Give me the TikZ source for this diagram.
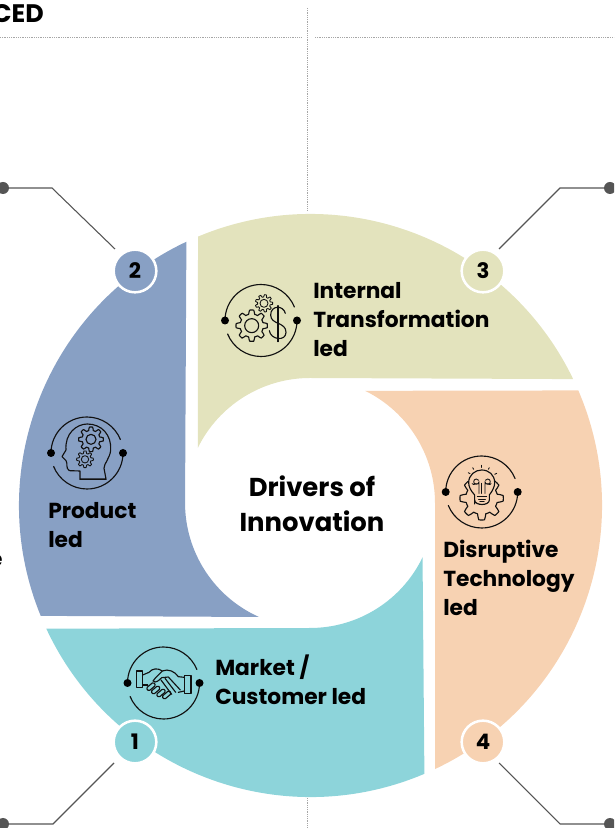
\documentclass[tikz,border=0pt]{standalone}
\usepackage{fontspec}
\setmainfont{Poppins}
\definecolor{cblue}{HTML}{88A0C4}
\definecolor{cgreen}{HTML}{E3E3BD}
\definecolor{corange}{HTML}{F7D2B2}
\definecolor{cteal}{HTML}{8DD4DA}
\definecolor{cline}{HTML}{555555}
\definecolor{cink}{HTML}{111111}
\newcommand{\geartooth}[5]{% x y ro ri n
  plot[domain=0:360,samples=\numexpr 12*#5+1\relax,variable=\t]
  ({#1+((#3+#4)/2+(#3-#4)/2*min(1,max(-1,2.2*sin(#5*\t+90))))*cos(\t)},
   {#2+((#3+#4)/2+(#3-#4)/2*min(1,max(-1,2.2*sin(#5*\t+90))))*sin(\t)}) -- cycle}
\tikzset{
  badge/.style={circle,draw=white,line width=1.9pt,minimum size=32pt,inner sep=0pt,font=\bfseries\fontsize{16}{16}\selectfont,text=black},
  lead/.style={draw=cline,line width=.8pt},
  enddot/.style={circle,fill=cline,inner sep=0pt,minimum size=9pt},
  guide/.style={draw=gray!70,line width=.6pt,dash pattern=on .75pt off .6pt},
  seglabel/.style={align=left,inner sep=0pt,anchor=north west,font=\bfseries\fontsize{16.3}{21.8}\selectfont,text=black},
  icon/.style={draw=cink,line width=.85pt,line join=round,line cap=round},
  thin/.style={draw=cink,line width=.65pt,line join=round,line cap=round},
  ringdot/.style={circle,fill=black,inner sep=0pt,minimum size=6pt}
}
\begin{document}
\begin{tikzpicture}[x=.75pt,y=.75pt]
\useasboundingbox (0,0) rectangle (614,828);
\clip (0,0) rectangle (614,828);
% guides
\coordinate (gt) at (307,820);
\coordinate (gm) at (307,618);
\coordinate (gb1) at (307,30);
\coordinate (gb2) at (307,0);
\coordinate (hl1) at (0,791);
\coordinate (hl2) at (301,791);
\coordinate (hr1) at (315,791);
\coordinate (hr2) at (614,791);
\draw[guide] (gt)--(gm);
\draw[guide] (gb1)--(gb2);
\draw[guide] (hl1)--(hl2);
\draw[guide] (hr1)--(hr2);
\node[anchor=base east,inner sep=0pt,font=\bfseries\fontsize{19}{19}\selectfont] (head) at (44,805) {CED};
\node[anchor=base east,inner sep=0pt,font=\fontsize{16}{16}\selectfont] (frag) at (3,261) {e};
% segments
\fill[cblue] (310.5,322.5) ++(115.2:291.5) arc[start angle=115.2,end angle=202.25,radius=291.5]
  -- (259,211) arc[start angle=245.9,end angle=180,radius=125] -- cycle;
\fill[cgreen] (310.5,322.5) ++(112.7:291.5) arc[start angle=112.7,end angle=25.7,radius=291.5]
  -- (310,450) arc[start angle=90,end angle=153.8,radius=125] -- cycle;
\fill[corange] (310.5,322.5) ++(23.25:291.5) arc[start angle=23.25,end angle=-64.7,radius=291.5]
  -- (435,325) arc[start angle=0,end angle=63.8,radius=125] -- cycle;
\fill[cteal] (310.5,322.5) ++(293:291.5) arc[start angle=293,end angle=205,radius=291.5]
  -- (310,200) arc[start angle=270,end angle=334.2,radius=125] -- cycle;
% leaders
\node[badge,fill=cblue] (b2) at (135,557) {2};
\node[badge,fill=cgreen] (b3) at (483,557) {3};
\node[badge,fill=cteal] (b1) at (135,86) {1};
\node[badge,fill=corange] (b4) at (483,86) {4};
\node[enddot] (d2) at (3,640) {};
\node[enddot] (d3) at (610,640) {};
\node[enddot] (d1) at (3,4) {};
\node[enddot] (d4) at (610,4) {};
\draw[lead] (d2.center) -- (52,640) -- (115,579);
\draw[lead] (d3.center) -- (560,640) -- (499,579);
\draw[lead] (d1.center) -- (53,4) -- (114,65);
\draw[lead] (d4.center) -- (560,4) -- (499,65);
% text
\node[align=center,inner sep=0pt,font=\bfseries\fontsize{19.4}{26}\selectfont] (title) at (312,324) {Drivers of\\Innovation};
\node[seglabel] (t3) at (313,545.5) {Internal\\Transformation\\led};
\node[seglabel] (t2) at (48,325.5) {Product\\led};
\node[seglabel] (t4) at (443,288.5) {Disruptive\\Technology\\led};
\node[seglabel] (t1) at (215,173.5) {Market /\\Customer led};
% rings
\foreach \cx/\cy/\nm in {261/507.5/g,87/375/b,481.7/336/o,163.5/145/t}{
  \draw[icon] (\cx,\cy) ++(180:36) arc[start angle=180,end angle=22,radius=36];
  \draw[icon] (\cx,\cy) ++(0:36) arc[start angle=0,end angle=-158,radius=36];
  \node[ringdot] (l\nm) at (\cx-36,\cy) {};
  \node[ringdot] (r\nm) at (\cx+36,\cy) {};
}
% green icon
\begin{scope}[shift={(200,568)},x=.25pt,y=-.25pt]
  \draw[icon] \geartooth{155}{197}{47}{35}{8};
  \draw[icon] (155,197) circle[radius=21];
  \draw[thin] \geartooth{192}{130}{26}{19}{9};
  \draw[thin] (192,130) circle[radius=12];
  \draw[icon] (234,137) -- (234,245);
  \draw[icon] (256,160) .. controls (250,135) and (212,135) .. (212,165) .. controls (212,195) and (258,185) .. (258,217) .. controls (258,245) and (212,240) .. (208,212);
\end{scope}
% blue icon
\begin{scope}[shift={(30,428)},x=.25pt,y=-.25pt]
  \draw[icon] (150,237) -- (150,213) -- (118,212) .. controls (106,205) and (114,190) .. (108,182) -- (96,170) -- (108,150)
     .. controls (104,100) and (140,72) .. (172,72) .. controls (215,72) and (245,105) .. (242,150) .. controls (240,175) and (222,190) .. (222,205) -- (228,237) -- cycle;
  \draw[icon] (150,239) -- (228,239);
  \draw[icon] \geartooth{183}{118}{37}{27}{8};
  \draw[icon] (183,118) circle[radius=15];
  \draw[thin] \geartooth{165}{178}{25}{18}{8};
  \draw[thin] (165,178) circle[radius=11];
\end{scope}
% orange icon
\begin{scope}[shift={(430,388)},x=.25pt,y=-.25pt]
  \draw[icon] \geartooth{155}{175}{65}{48}{8};
  \fill[corange] (155,135) circle[radius=40] (125,130) rectangle (185,195);
  \draw[icon] (134,192) -- (134,165) .. controls (122,152) and (116,140) .. (116,128) .. controls (116,105) and (135,90) .. (155,90) .. controls (177,90) and (194,105) .. (194,128) .. controls (194,140) and (188,152) .. (178,165) -- (178,180) .. controls (178,198) and (134,198) .. (134,180);
  \draw[thin] (147,160) -- (147,125) arc[start angle=0,end angle=330,radius=8];
  \draw[thin] (165,160) -- (165,125) arc[start angle=180,end angle=-150,radius=8];
  \draw[icon] (154,130) -- (154,160);
  \draw[icon] (142,170) -- (170,170);
  \draw[icon] (146,178) -- (166,178);
  \draw[icon] (150,185) -- (162,185);
  \draw[thin] (154,76) -- (154,82);
  \draw[thin] (128,83) -- (131,88);
  \draw[thin] (178,83) -- (175,88);
  \draw[thin] (115,98) -- (120,101);
  \draw[thin] (200,100) -- (194,103);
\end{scope}
% teal icon
\begin{scope}[shift={(115,193)},x=.25pt,y=-.25pt]
  \draw[icon] (65,108) rectangle (83,158);
  \draw[icon] (208,122) rectangle (228,175);
  \draw[icon] (83,120) -- (102,112) .. controls (112,100) and (128,98) .. (142,108) .. controls (160,100) and (180,110) .. (190,125) -- (208,127);
  \draw[icon] (83,150) -- (98,150);
  \draw[icon] (208,168) -- (190,172);
  \draw[icon] (142,108) -- (122,128) -- (114,138) .. controls (122,146) and (132,136) .. (140,128) -- (160,126) -- (196,165);
  \draw[icon] (150,130) -- (182,172);
  \draw[icon] (138,135) -- (170,178);
  \foreach \px/\py in {108/155,122/165,138/174,155/180}{
    \draw[icon,rounded corners=1pt,rotate around={40:(\px,\py)}] (\px-14,\py-6) rectangle (\px+14,\py+6);
  }
\end{scope}
\end{tikzpicture}
\end{document}
